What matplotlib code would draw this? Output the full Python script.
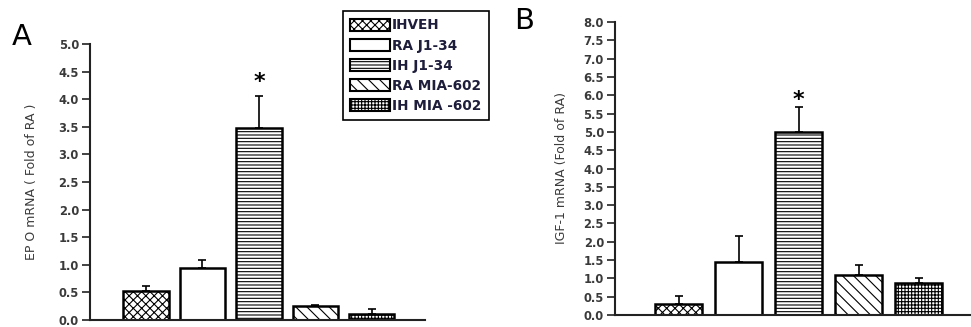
import matplotlib
matplotlib.use("Agg")
import matplotlib.pyplot as plt
import matplotlib.patches as patches

plt.rcParams['font.family'] = ['DejaVu Sans']
plt.rcParams['hatch.linewidth'] = 0.8

groups = ["IHVEH", "RA J1-34", "IH J1-34", "RA MIA-602", "IH MIA -602"]
hatches = ['xxxx', '', '-----', '\\\\\\', '+++++']

epo_mean = [0.53, 0.95, 3.47, 0.25, 0.10]
epo_err = [0.08, 0.13, 0.58, 0.02, 0.10]

igf_mean = [0.30, 1.45, 5.00, 1.08, 0.88]
igf_err = [0.22, 0.70, 0.68, 0.28, 0.14]

epo_ticks = [0.0, 0.5, 1.0, 1.5, 2.0, 2.5, 3.0, 3.5, 4.0, 4.5, 5.0]
igf_ticks = [0.0, 0.5, 1.0, 1.5, 2.0, 2.5, 3.0, 3.5, 4.0, 4.5, 5.0, 5.5,
             6.0, 6.5, 7.0, 7.5, 8.0]

tick_col = '#3a3a3a'


def draw_panel(ax, means, errs, ticks, ylabel, width, xlim, star_at, lpad):
    x = list(range(len(means)))
    for i in x:
        ax.bar(i, means[i], width=width, color='white', edgecolor='black',
               linewidth=1.8, hatch=hatches[i], zorder=2)
    ax.errorbar(x, means, yerr=[[0] * len(errs), errs], fmt='none',
                ecolor='black', elinewidth=1.2, capsize=3, capthick=1.2, zorder=1)
    ax.text(2, star_at, '*', ha='center', va='center', fontsize=16,
            fontweight='bold')
    ax.set_xlim(*xlim)
    ax.set_ylim(0, ticks[-1])
    ax.set_yticks(ticks)
    ax.set_yticklabels(['%.1f' % t for t in ticks], fontsize=8.3,
                       fontweight='bold', color=tick_col)
    ax.set_xticks([])
    ax.spines['top'].set_visible(False)
    ax.spines['right'].set_visible(False)
    ax.spines['left'].set_linewidth(1.5)
    ax.spines['bottom'].set_linewidth(1.5)
    ax.spines['left'].set_color('#222222')
    ax.spines['bottom'].set_color('#222222')
    ax.tick_params(axis='y', direction='out', length=6, width=1.2,
                   color='#222222', pad=2)
    ax.set_ylabel(ylabel, fontsize=9, color=tick_col, labelpad=lpad)
    ax.set_facecolor('none')


fig = plt.figure(figsize=(9.71, 3.27), dpi=100)

axA = fig.add_axes([90 / 971, 1 - 320 / 327, 335 / 971, 276 / 327])
draw_panel(axA, epo_mean, epo_err, epo_ticks, 'EP O mRNA ( Fold of RA )',
           0.8, (-0.99, 4.94), 4.32, 15)

axB = fig.add_axes([615 / 971, 1 - 315 / 327, 356 / 971, 293 / 327])
draw_panel(axB, igf_mean, igf_err, igf_ticks, 'IGF-1 mRNA (Fold of RA)',
           0.78, (-1.06, 4.875), 5.88, 11)

fig.text(12 / 971, 1 - 45 / 327, 'A', fontsize=21, ha='left', va='baseline')
fig.text(514 / 971, 1 - 29 / 327, 'B', fontsize=21, ha='left', va='baseline')

handles = [patches.Patch(facecolor='white', edgecolor='black', linewidth=1.5,
                         hatch=hatches[i], label=groups[i])
           for i in range(len(groups))]
leg = fig.legend(handles=handles, loc='upper left',
                 bbox_to_anchor=(343 / 971, 1 - 11 / 327),
                 prop={'weight': 'bold', 'size': 9.8}, handlelength=2.9,
                 handleheight=1.0, handletextpad=0.15, labelspacing=0.45,
                 borderpad=0.55, borderaxespad=0, fancybox=False,
                 framealpha=1, edgecolor='black')
leg.get_frame().set_linewidth(1.2)
for t in leg.get_texts():
    t.set_color('#1e1e3c')

fig.savefig('out.png', dpi=100)
